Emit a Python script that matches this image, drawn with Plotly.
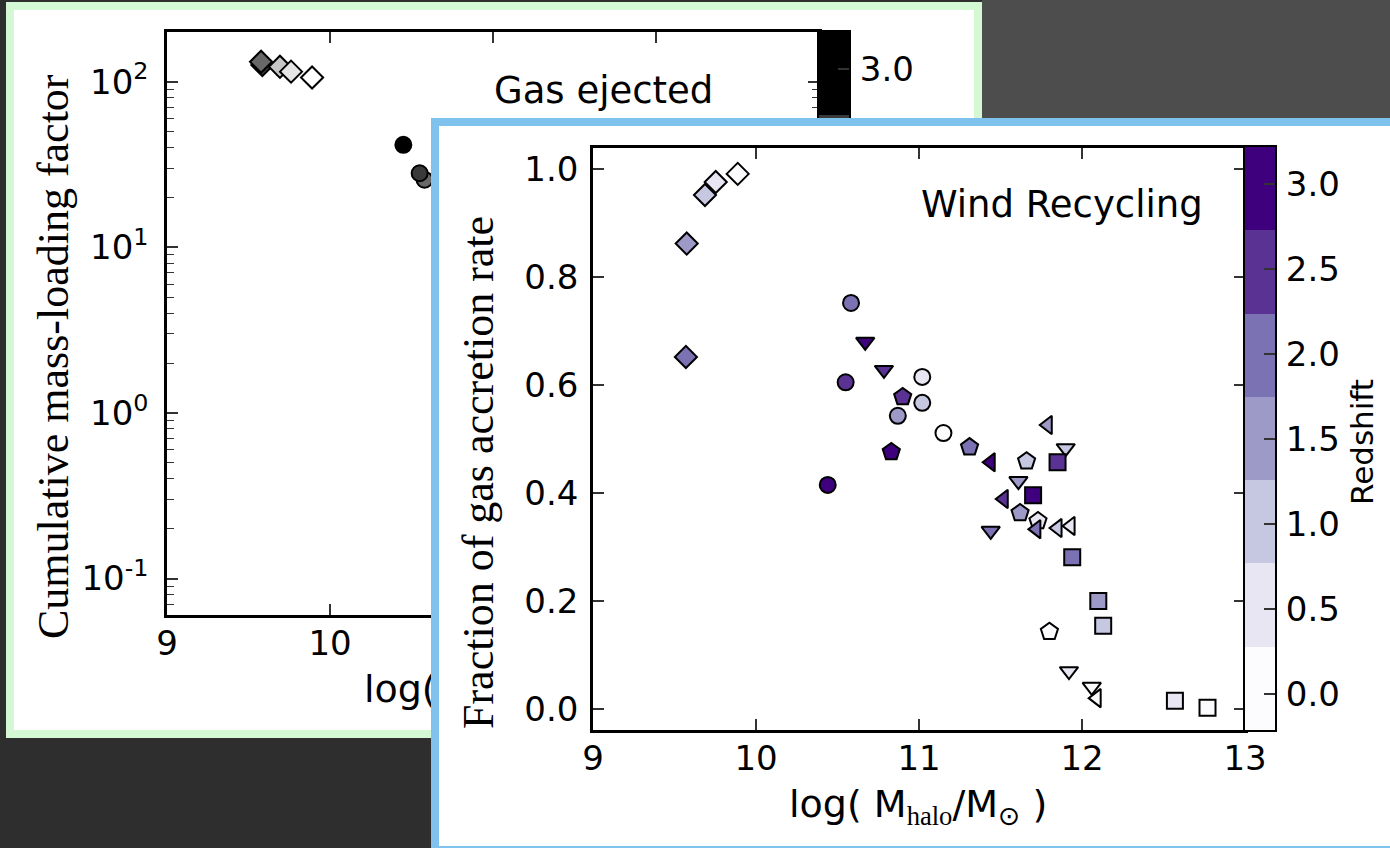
import numpy as np
import plotly.graph_objects as go

W, H = 1390, 848

# ---------------- data: front panel "Wind Recycling" ----------------
z_dia = [2.0, 1.5, 1.0, 0.5, 0.0]
m_dia = [9.57, 9.575, 9.687, 9.753, 9.888]
f_dia = [0.652, 0.862, 0.952, 0.976, 0.991]

z_all = [3.0, 2.5, 2.0, 1.5, 1.0, 0.5, 0.0]
m_circ = [10.44, 10.55, 10.583, 10.87, 11.02, 11.02, 11.15]
f_circ = [0.415, 0.605, 0.752, 0.543, 0.567, 0.615, 0.511]
m_tri = [10.67, 10.785, 11.44, 11.61, 11.90, 11.92, 12.06]
f_tri = [0.680, 0.628, 0.330, 0.422, 0.483, 0.070, 0.041]
m_pent = [10.83, 10.90, 11.31, 11.62, 11.66, 11.73, 11.80]
f_pent = [0.476, 0.578, 0.485, 0.363, 0.459, 0.348, 0.143]
m_tril = [11.44, 11.52, 11.72, 11.79, 11.85, 11.93, 12.09]
f_tril = [0.457, 0.389, 0.333, 0.526, 0.335, 0.339, 0.020]
m_sq = [11.70, 11.85, 11.94, 12.10, 12.13, 12.57, 12.77]
f_sq = [0.396, 0.457, 0.281, 0.200, 0.154, 0.015, 0.002]

# ---------------- data: back panel "Gas ejected" (visible part) ----------------
z_back_dia = [2.5, 2.0, 1.0, 0.5, 0.0]
m_back_dia = [9.585, 9.577, 9.693, 9.761, 9.89]
eta_back_dia = [126, 132, 123, 115, 106]
z_back_circ = [2.0, 2.5, 3.0]
m_back_circ = [10.58, 10.55, 10.45]
eta_back_circ = [25.6, 28.0, 41.6]

# colour bar
cb_ticks = [0.0, 0.5, 1.0, 1.5, 2.0, 2.5, 3.0]
cb_ticktext = ["0.0", "0.5", "1.0", "1.5", "2.0", "2.5", "3.0"]
CMIN, CMAX = -0.212, 3.218
purples = ['#fcfbfd', '#e7e6f2', '#c6c7e1', '#9e9ac8', '#7b72b4', '#5a3294', '#3f007d']
greys = ['#ffffff', '#e5e5e5', '#c6c6c6', '#989898', '#686868', '#3a3a3a', '#000000']

x_ticks = [9, 10, 11, 12, 13]
f_ticks = [0.0, 0.2, 0.4, 0.6, 0.8, 1.0]
eta_ticks = [0.1, 1, 10, 100]
eta_ticktext = ["10<sup>-1</sup>", "10<sup>0</sup>", "10<sup>1</sup>", "10<sup>2</sup>"]

xlabel = "log( M<sub><span style='font-family:Liberation Serif'>halo</span></sub>/M<sub>⊙</sub> )"


def discrete(colors):
    n = len(colors)
    cs = []
    for i, c in enumerate(colors):
        cs += [[i / n, c], [(i + 1) / n, c]]
    return cs


def px(p):
    return p / W


def py(p):
    return 1 - p / H


SANS = "DejaVu Sans"
SERIF = "Liberation Serif"
MLINE = dict(color="black", width=2)
TICKFONT = dict(family=SANS, size=34, color="black")

fig = go.Figure()

# ---- back panel traces (subplot xy) ----
fig.add_trace(go.Scatter(x=m_back_dia, y=eta_back_dia, mode="markers", xaxis="x", yaxis="y",
                         marker=dict(symbol="diamond", size=17, color=z_back_dia, coloraxis="coloraxis2", line=MLINE),
                         hoverinfo="skip", showlegend=False))
fig.add_trace(go.Scatter(x=m_back_circ, y=eta_back_circ, mode="markers", xaxis="x", yaxis="y",
                         marker=dict(symbol="circle", size=16, color=z_back_circ, coloraxis="coloraxis2", line=MLINE),
                         hoverinfo="skip", showlegend=False))

# ---- back colour bar (subplot x2y2) ----
edges = np.linspace(CMIN, CMAX, len(cb_ticks) + 1)
centers = (edges[:-1] + edges[1:]) / 2
fig.add_trace(go.Heatmap(z=[[c] for c in centers], x=[0, 1], y=edges, coloraxis="coloraxis2",
                         xaxis="x2", yaxis="y2", hoverinfo="skip"))

# ---- back x-axis label (subplot x3y3, below the front panel so it gets hidden) ----
fig.add_trace(go.Scatter(x=[0.5], y=[0.5], mode="text", text=[xlabel], textposition="middle center",
                         textfont=dict(family=SANS, size=38, color="black"), cliponaxis=False,
                         xaxis="x3", yaxis="y3", hoverinfo="skip", showlegend=False))

# ---- cover subplot (x4y4): the front panel frame ----
fig.add_trace(go.Scatter(x=[None], y=[None], xaxis="x4", yaxis="y4", mode="markers",
                         hoverinfo="skip", showlegend=False))

# ---- front panel traces (subplot x5y5) ----
front = [
    ("diamond", 17, m_dia, f_dia, z_dia),
    ("circle", 16, m_circ, f_circ, z_all),
    ("triangle-down", 16, m_tri, f_tri, z_all),
    ("pentagon", 18, m_pent, f_pent, z_all),
    ("triangle-left", 16, m_tril, f_tril, z_all),
    ("square", 16, m_sq, f_sq, z_all),
]
for sym, sz, mx, fy, zz in front:
    fig.add_trace(go.Scatter(x=mx, y=fy, mode="markers", xaxis="x5", yaxis="y5",
                             marker=dict(symbol=sym, size=sz, color=zz, coloraxis="coloraxis", line=MLINE),
                             hoverinfo="skip", showlegend=False))

# ---- front colour bar (subplot x6y6) ----
fig.add_trace(go.Heatmap(z=[[c] for c in centers], x=[0, 1], y=edges, coloraxis="coloraxis",
                         xaxis="x6", yaxis="y6", hoverinfo="skip"))

tick_common = dict(ticks="inside", ticklen=11, tickwidth=1.5, tickcolor="#333333",
                   showline=True, linecolor="black", linewidth=2.5, mirror="allticks", automargin=False,
                   showgrid=False, zeroline=False, tickfont=TICKFONT)
cbx_common = dict(range=[0, 1], showline=True, mirror=True, linecolor="black", linewidth=2, automargin=False,
                  ticks="", showticklabels=False, showgrid=False, zeroline=False)
cby_common = dict(range=[CMIN, CMAX], side="right", tickmode="array", tickvals=cb_ticks, ticktext=cb_ticktext,
                  ticks="inside", ticklen=11, tickwidth=1.5, tickcolor="#333333", showline=True, mirror=True,
                  linecolor="black", linewidth=2, showgrid=False, zeroline=False, ticklabelstandoff=2,
                  automargin=False, tickfont=TICKFONT)
BACK_YR = [-1.22, 2.30]

fig.update_layout(
    width=W, height=H, autosize=False,
    margin=dict(l=0, r=0, t=0, b=0, pad=0, autoexpand=False),
    paper_bgcolor="#2e2e2e", plot_bgcolor="rgba(0,0,0,0)",
    font=dict(family=SANS, color="black"),
    hovermode=False,
    xaxis=dict(domain=[px(167), px(819)], range=[9, 13], anchor="y", tickmode="array",
               tickvals=x_ticks, ticktext=[str(v) for v in x_ticks], ticklabelstandoff=-4, **tick_common),
    yaxis=dict(domain=[py(615), py(32)], type="log", range=BACK_YR, anchor="x", tickmode="array",
               tickvals=eta_ticks, ticktext=eta_ticktext, ticklabelstandoff=9,
               minor=dict(ticks="inside", ticklen=7, tickwidth=1.2, tickcolor="#333333", dtick="D1", showgrid=False),
               **tick_common),
    xaxis2=dict(domain=[px(819), px(849)], anchor="y2", **cbx_common),
    yaxis2=dict(domain=[py(615), py(32)], anchor="x2", **cby_common),
    xaxis3=dict(domain=[px(167), px(819)], range=[0, 1], anchor="y3", visible=False, automargin=False),
    yaxis3=dict(domain=[py(722), py(662)], range=[0, 1], anchor="x3", visible=False, automargin=False),
    xaxis4=dict(domain=[px(431), 1], range=[431, 1390], anchor="y4", visible=False, automargin=False),
    yaxis4=dict(domain=[0, py(118)], range=[848, 118], anchor="x4", visible=False, automargin=False),
    xaxis5=dict(domain=[px(593), px(1245)], range=[9, 13], anchor="y5", tickmode="array",
                tickvals=x_ticks, ticktext=[str(v) for v in x_ticks], ticklabelstandoff=-4, **tick_common),
    yaxis5=dict(domain=[py(730), py(148)], range=[-0.039, 1.039], anchor="x5", tickmode="array",
                tickvals=f_ticks, ticktext=["%.1f" % v for v in f_ticks], ticklabelstandoff=5, **tick_common),
    xaxis6=dict(domain=[px(1245), px(1275)], anchor="y6", **cbx_common),
    yaxis6=dict(domain=[py(730), py(147)], anchor="x6", **cby_common),
    coloraxis=dict(colorscale=discrete(purples), cmin=CMIN, cmax=CMAX, showscale=False),
    coloraxis2=dict(colorscale=discrete(greys), cmin=CMIN, cmax=CMAX, showscale=False),
)

# background and panel frames
shapes = [
    dict(type="rect", xref="paper", yref="paper", layer="below", x0=px(982), x1=1, y0=py(118), y1=1,
         fillcolor="#4d4d4d", line=dict(width=0)),
    dict(type="rect", xref="paper", yref="paper", layer="below", x0=px(6), x1=px(982), y0=py(738), y1=py(2),
         fillcolor="#d3f8d3", line=dict(width=0)),
    dict(type="rect", xref="paper", yref="paper", layer="below", x0=px(14), x1=px(974), y0=py(730), y1=py(10),
         fillcolor="white", line=dict(width=0)),
    dict(type="rect", xref="x4", yref="y4", layer="below", x0=431, x1=1407, y0=118, y1=854,
         fillcolor="#7fc2ed", line=dict(width=0)),
    dict(type="rect", xref="x4", yref="y4", layer="below", x0=439, x1=1399, y0=126, y1=846,
         fillcolor="white", line=dict(width=0)),
]
fig.update_layout(shapes=shapes)

ann = [
    dict(text="Cumulative mass-loading factor", x=px(54), y=py(357), textangle=-90,
         font=dict(family=SERIF, size=44, color="black")),
    dict(text="Gas ejected", x=px(603), y=py(90), font=dict(family=SANS, size=37, color="black")),
    dict(text="Fraction of gas accretion rate", x=px(479), y=py(473), textangle=-90,
         font=dict(family=SERIF, size=44, color="black")),
    dict(text="Wind Recycling", x=px(1062), y=py(204), font=dict(family=SANS, size=37, color="black")),
    dict(text=xlabel, x=px(918), y=py(806), font=dict(family=SANS, size=38, color="black")),
    dict(text="Redshift", x=px(1362), y=py(442), textangle=-90, font=dict(family=SANS, size=31, color="black")),
]
for a in ann:
    a.update(xref="paper", yref="paper", xanchor="center", yanchor="middle", showarrow=False)
fig.update_layout(annotations=ann)

fig.write_html("out.html", config={"displayModeBar": False, "responsive": False},
               post_script="document.body.style.margin='0px';document.body.style.padding='0px';"
                           "document.body.style.overflow='hidden';")
